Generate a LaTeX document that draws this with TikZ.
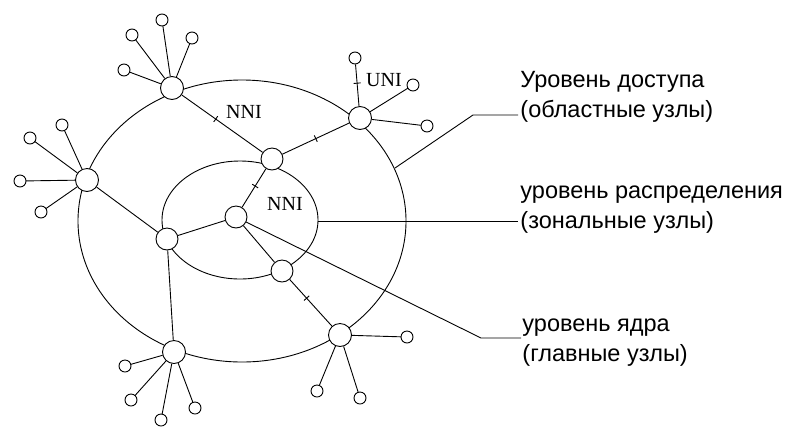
\documentclass[tikz,border=0pt]{standalone}
\usepackage{fontspec}
\setmainfont{Liberation Serif}
\newfontfamily\lblfont{Liberation Sans}
\begin{document}
\begin{tikzpicture}[x=1pt,y=-1pt,line width=0.9pt,
  big/.style={draw,circle,fill=white,minimum size=23pt,inner sep=0},
  mid/.style={draw,circle,fill=white,minimum size=22pt,inner sep=0},
  leaf/.style={draw,circle,fill=white,minimum size=12pt,inner sep=0},
  bar/.style={draw,sloped,inner sep=0,minimum width=0pt,minimum height=7pt},
  tag/.style={font=\fontsize{20}{22}\selectfont,inner sep=0},
  lvl/.style={font=\lblfont\fontsize{23.5}{30}\selectfont,align=left,anchor=west,inner sep=0}]
\useasboundingbox (0,0) rectangle (794,432);
\draw (242,221) ellipse [x radius=164, y radius=141];
\draw (240,220) ellipse [x radius=78, y radius=59];

% leader lines
\coordinate (k1) at (473,115);
\coordinate (k3) at (481,338);
\node[lvl] (t1) at (520,97) {Уровень доступа\\(областные узлы)};
\node[lvl] (t2) at (520,210) {уровень распределения\\(зональные узлы)};
\node[lvl] (t3) at (522,343) {уровень ядра\\(главные узлы)};
\draw (395,168) -- (k1) -- (518,115);
\draw (318,221) -- (518,221);

\node[mid] (C) at (236,217) {};
\draw (C) -- (k3) -- (521,338);

\node[big] (a1) at (172,88) {};
\node[big] (a2) at (87,180) {};
\node[big] (a3) at (360,118) {};
\node[big] (a4) at (174,352) {};
\node[big] (a5) at (340,335) {};
\node[mid] (d1) at (272,159) {};
\node[mid] (d2) at (167,239) {};
\node[mid] (d3) at (282,271) {};

\draw (a1) -- node[bar,pos=0.42] {} (d1);
\draw (d1) -- node[bar,pos=0.5] {} (a3);
\draw (C) -- node[bar,pos=0.55] {} (d1);
\draw (d3) -- node[bar,pos=0.4] {} (a5);
\draw (a2) -- (d2);
\draw (d2) -- (a4);
\draw (d2) -- (C);
\draw (C) -- (d3);

\node[tag] (nni1) at (244,112) {NNI};
\node[tag] (nni2) at (285,204) {NNI};
\node[tag] (uni) at (384,80) {UNI};

% leaves
\foreach \n/\x/\y in {a1/132/35, a1/162/20, a1/192/38, a1/124/70,
  a2/30/138, a2/62/125, a2/20/181, a2/41/212,
  a3/413/85, a3/427/126,
  a4/125/366, a4/131/400, a4/161/420, a4/195/408,
  a5/407/337, a5/317/391, a5/360/398}
  \draw (\n) -- (\x,\y) node[leaf] {};
\node[leaf] (u1) at (355,58) {};
\draw (a3) -- node[bar,pos=0.55] {} (u1);
\end{tikzpicture}
\end{document}
